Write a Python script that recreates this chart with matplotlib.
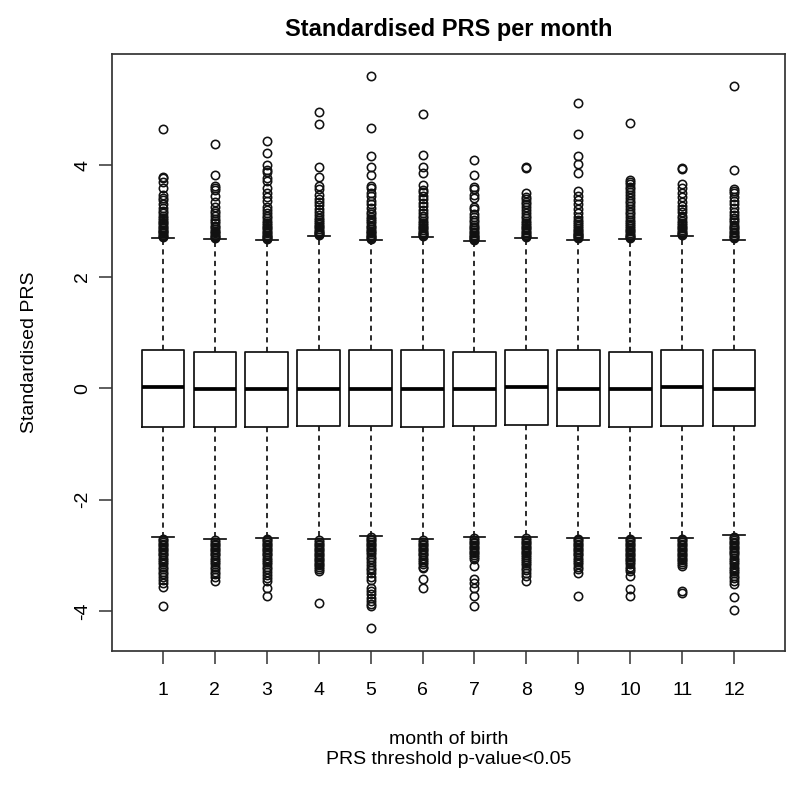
import matplotlib
matplotlib.use("Agg")
import matplotlib.pyplot as plt

plt.rcParams['font.family'] = ['Liberation Sans', 'DejaVu Sans']

months = [1, 2, 3, 4, 5, 6, 7, 8, 9, 10, 11, 12]
tick_labels = ["1", "2", "3", "4", "5", "6", "7", "8", "9", "10", "11", "12"]

medians = [0.02, -0.01, -0.01, -0.01, -0.01, -0.01, -0.01, 0.02, -0.01, -0.02, 0.02, -0.01]
q1 = [-0.69, -0.69, -0.69, -0.68, -0.68, -0.69, -0.68, -0.66, -0.68, -0.69, -0.68, -0.68]
q3 = [0.68, 0.66, 0.66, 0.69, 0.68, 0.68, 0.65, 0.69, 0.68, 0.65, 0.69, 0.68]
whisk_hi = [2.70, 2.68, 2.66, 2.73, 2.66, 2.72, 2.65, 2.70, 2.67, 2.68, 2.73, 2.67]
whisk_lo = [-2.67, -2.71, -2.68, -2.71, -2.65, -2.71, -2.67, -2.67, -2.68, -2.68, -2.68, -2.64]

out_hi_1 = [4.66, 3.80, 3.77, 3.70, 3.59, 3.47, 3.42, 3.38, 3.30, 3.24, 3.19, 3.15, 3.10, 3.06, 3.02,
            2.99, 2.96, 2.93, 2.90, 2.87, 2.85, 2.82, 2.80, 2.78, 2.76, 2.74, 2.72]
out_hi_2 = [4.39, 3.82, 3.63, 3.60, 3.56, 3.45, 3.35, 3.25, 3.19, 3.14, 3.09, 3.04, 3.00, 2.96, 2.92,
            2.89, 2.86, 2.83, 2.80, 2.78, 2.76, 2.74, 2.72, 2.70]
out_hi_3 = [4.44, 4.22, 4.01, 3.91, 3.89, 3.77, 3.72, 3.60, 3.50, 3.44, 3.36, 3.26, 3.20, 3.14, 3.10,
            3.05, 3.01, 2.97, 2.93, 2.90, 2.87, 2.84, 2.81, 2.78, 2.76, 2.74, 2.72, 2.70, 2.68]
out_hi_4 = [4.96, 4.74, 3.98, 3.79, 3.64, 3.58, 3.47, 3.40, 3.35, 3.29, 3.22, 3.16, 3.11, 3.06, 3.02,
            2.98, 2.95, 2.92, 2.89, 2.86, 2.83, 2.81, 2.79, 2.77, 2.75]
out_hi_5 = [5.61, 4.68, 4.17, 3.98, 3.82, 3.64, 3.60, 3.50, 3.46, 3.36, 3.30, 3.23, 3.17, 3.12, 3.08,
            3.04, 3.00, 2.96, 2.92, 2.89, 2.86, 2.83, 2.80, 2.78, 2.76, 2.74, 2.72, 2.70, 2.68]
out_hi_6 = [4.93, 4.19, 3.98, 3.86, 3.65, 3.56, 3.52, 3.46, 3.40, 3.33, 3.27, 3.20, 3.14, 3.09, 3.05,
            3.01, 2.97, 2.93, 2.90, 2.87, 2.84, 2.81, 2.79, 2.77, 2.75, 2.73]
out_hi_7 = [4.10, 3.83, 3.62, 3.58, 3.47, 3.41, 3.26, 3.22, 3.12, 3.07, 3.02, 2.98, 2.94, 2.90, 2.87,
            2.84, 2.81, 2.78, 2.76, 2.74, 2.72, 2.70, 2.68, 2.66]
out_hi_8 = [3.98, 3.96, 3.50, 3.44, 3.40, 3.35, 3.30, 3.25, 3.20, 3.15, 3.10, 3.05, 3.01, 2.97, 2.94,
            2.90, 2.87, 2.84, 2.81, 2.78, 2.76, 2.74, 2.72]
out_hi_9 = [5.12, 4.57, 4.17, 4.02, 3.87, 3.55, 3.45, 3.38, 3.30, 3.22, 3.14, 3.08, 3.03, 2.99, 2.95,
            2.91, 2.88, 2.85, 2.82, 2.79, 2.77, 2.75, 2.73, 2.71, 2.69]
out_hi_10 = [4.77, 3.74, 3.70, 3.66, 3.62, 3.57, 3.52, 3.47, 3.42, 3.37, 3.32, 3.27, 3.22, 3.17, 3.12,
             3.07, 3.03, 2.99, 2.95, 2.91, 2.88, 2.85, 2.82, 2.79, 2.76, 2.74, 2.72, 2.70]
out_hi_11 = [3.95, 3.93, 3.66, 3.60, 3.50, 3.43, 3.35, 3.28, 3.22, 3.16, 3.10, 3.05, 3.01, 2.97, 2.93,
             2.90, 2.87, 2.84, 2.81, 2.79, 2.77, 2.75]
out_hi_12 = [5.42, 3.92, 3.58, 3.55, 3.50, 3.43, 3.36, 3.30, 3.23, 3.17, 3.11, 3.06, 3.02, 2.98, 2.94,
             2.90, 2.87, 2.84, 2.81, 2.78, 2.75, 2.73, 2.71, 2.69]

out_lo_1 = [-2.70, -2.73, -2.76, -2.79, -2.82, -2.85, -2.88, -2.91, -2.94, -2.97, -3.00, -3.04, -3.08,
            -3.12, -3.16, -3.20, -3.25, -3.29, -3.34, -3.38, -3.44, -3.50, -3.56, -3.91]
out_lo_2 = [-2.73, -2.76, -2.79, -2.82, -2.85, -2.88, -2.91, -2.94, -2.97, -3.00, -3.04, -3.08, -3.12,
            -3.16, -3.20, -3.25, -3.30, -3.34, -3.38, -3.46]
out_lo_3 = [-2.70, -2.73, -2.76, -2.79, -2.82, -2.85, -2.88, -2.91, -2.94, -2.97, -3.00, -3.04, -3.08,
            -3.12, -3.16, -3.20, -3.25, -3.30, -3.35, -3.40, -3.46, -3.58, -3.72]
out_lo_4 = [-2.73, -2.76, -2.79, -2.82, -2.85, -2.88, -2.91, -2.94, -2.97, -3.00, -3.03, -3.06, -3.09,
            -3.12, -3.15, -3.18, -3.21, -3.24, -3.28, -3.85]
out_lo_5 = [-2.67, -2.70, -2.73, -2.76, -2.79, -2.82, -2.85, -2.88, -2.91, -2.94, -2.98, -3.02, -3.07,
            -3.12, -3.17, -3.22, -3.27, -3.32, -3.38, -3.44, -3.58, -3.64, -3.70, -3.76, -3.82, -3.87,
            -3.91, -4.31]
out_lo_6 = [-2.73, -2.76, -2.79, -2.82, -2.85, -2.88, -2.91, -2.94, -2.97, -3.00, -3.04, -3.08, -3.12,
            -3.16, -3.20, -3.23, -3.43, -3.59]
out_lo_7 = [-2.69, -2.72, -2.75, -2.78, -2.81, -2.84, -2.87, -2.90, -2.93, -2.96, -2.99, -3.03, -3.07,
            -3.19, -3.43, -3.49, -3.59, -3.73, -3.91]
out_lo_8 = [-2.69, -2.72, -2.75, -2.78, -2.81, -2.84, -2.87, -2.90, -2.93, -2.96, -2.99, -3.02, -3.06,
            -3.10, -3.14, -3.18, -3.22, -3.27, -3.32, -3.37, -3.46]
out_lo_9 = [-2.70, -2.73, -2.76, -2.79, -2.82, -2.85, -2.88, -2.91, -2.94, -2.97, -3.00, -3.04, -3.08,
            -3.12, -3.16, -3.20, -3.25, -3.31, -3.73]
out_lo_10 = [-2.70, -2.73, -2.76, -2.79, -2.82, -2.85, -2.88, -2.91, -2.94, -2.97, -3.00, -3.03, -3.06,
             -3.09, -3.12, -3.16, -3.20, -3.24, -3.28, -3.37, -3.60, -3.73]
out_lo_11 = [-2.70, -2.73, -2.76, -2.79, -2.82, -2.85, -2.88, -2.91, -2.94, -2.97, -3.00, -3.03, -3.06,
             -3.09, -3.12, -3.16, -3.19, -3.64, -3.68]
out_lo_12 = [-2.66, -2.69, -2.72, -2.75, -2.78, -2.81, -2.84, -2.87, -2.90, -2.93, -2.96, -3.00, -3.04,
             -3.08, -3.12, -3.16, -3.20, -3.24, -3.28, -3.32, -3.36, -3.40, -3.45, -3.52, -3.75, -3.98]

outliers_hi = [out_hi_1, out_hi_2, out_hi_3, out_hi_4, out_hi_5, out_hi_6,
               out_hi_7, out_hi_8, out_hi_9, out_hi_10, out_hi_11, out_hi_12]
outliers_lo = [out_lo_1, out_lo_2, out_lo_3, out_lo_4, out_lo_5, out_lo_6,
               out_lo_7, out_lo_8, out_lo_9, out_lo_10, out_lo_11, out_lo_12]

stats = []
for i in range(len(months)):
    stats.append(dict(med=medians[i], q1=q1[i], q3=q3[i],
                      whislo=whisk_lo[i], whishi=whisk_hi[i],
                      fliers=outliers_hi[i] + outliers_lo[i],
                      label=tick_labels[i]))

fig = plt.figure(figsize=(8.0, 7.9), dpi=100)
ax = fig.add_axes([0.14, 0.1763, 0.84125, 0.7553])

ink = '#111111'
ax.bxp(stats, positions=months, widths=0.82, showfliers=True,
       boxprops=dict(color=ink, linewidth=1.25),
       medianprops=dict(color='black', linewidth=2.7, solid_capstyle='butt'),
       whiskerprops=dict(color=ink, linewidth=1.25, linestyle=(0, (3, 2.5))),
       capprops=dict(color=ink, linewidth=1.25),
       flierprops=dict(marker='o', markerfacecolor='none', markeredgecolor=ink,
                       markersize=6.0, markeredgewidth=1.15, linestyle='none'),
       capwidths=0.42)

ax.set_xlim(0.02, 12.98)
ax.set_ylim(-4.71, 6.0)
ax.set_xticks(months)
ax.set_xticklabels(tick_labels)
ax.set_yticks([-4, -2, 0, 2, 4])
ax.set_yticklabels(["-4", "-2", "0", "2", "4"], rotation=90, va='center')

for s in ax.spines.values():
    s.set_color('#333333')
    s.set_linewidth(1.25)

ax.tick_params(axis='both', direction='out', length=9.4, width=1.1, color='#333333',
               labelsize=14, labelcolor='black')
ax.tick_params(axis='x', pad=13)
ax.tick_params(axis='y', pad=5.5)

ax.set_title("Standardised PRS per month", fontsize=17, fontweight='bold', pad=13)
ax.set_ylabel("Standardised PRS", fontsize=14, labelpad=26)
ax.set_xlabel("month of birth\nPRS threshold p-value<0.05", fontsize=14, labelpad=23,
              linespacing=1.25)

fig.savefig("out.png", dpi=100, facecolor='white')
